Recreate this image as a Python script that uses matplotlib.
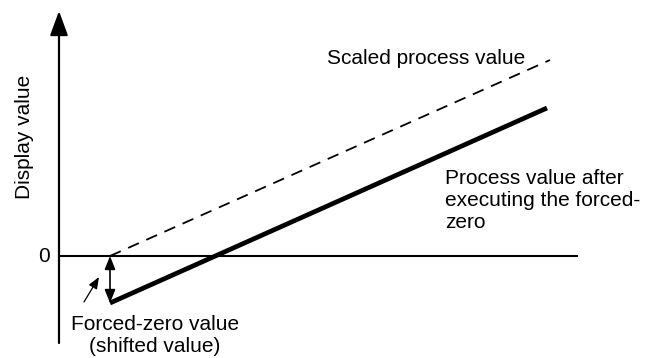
import matplotlib
matplotlib.use('Agg')
from matplotlib import pyplot as plt

plt.rcParams['font.family'] = ['Liberation Sans', 'DejaVu Sans']

# process input (horizontal) and display value (vertical), zero line at y=0
scaled_x = [110, 550]
scaled_y = [0, 196]
forced_x = [110, 547]
forced_y = [-47, 148]
zero_x = [59, 578]
shift_x = 110
shift_top = 0
shift_bottom = -47

fig = plt.figure(figsize=(6.45, 3.58), dpi=100)
ax = fig.add_axes([0, 0, 1, 1])
ax.set_xlim(0, 645)
ax.set_ylim(-102, 256)
ax.axis('off')

# vertical axis with arrow head
ax.annotate('', xy=(59, 245), xytext=(59, -87),
            arrowprops=dict(arrowstyle='-|>,head_length=1.5,head_width=0.55',
                            lw=1.6, color='black', shrinkA=0, shrinkB=0))
# zero line
ax.plot(zero_x, [0, 0], color='black', lw=1.5, solid_capstyle='butt')

# scaled process value (dashed) and process value after forced-zero (thick)
ax.plot(scaled_x, scaled_y, color='black', lw=1.3, dashes=(6.5, 4.5))
ax.plot(forced_x, forced_y, color='black', lw=3.4, solid_capstyle='butt')

# forced-zero shift (double arrow)
ax.annotate('', xy=(shift_x, shift_top), xytext=(shift_x, shift_bottom),
            arrowprops=dict(arrowstyle='<|-|>,head_length=0.8,head_width=0.32',
                            lw=1.2, color='black', shrinkA=0, shrinkB=0))
# pointer to the shift
ax.annotate('', xy=(99, -21), xytext=(84, -46),
            arrowprops=dict(arrowstyle='-|>,head_length=0.7,head_width=0.28',
                            lw=0.9, color='black', shrinkA=0, shrinkB=0))

fs = 15
ax.text(50, 0, '0', ha='right', va='center', fontsize=fs)
ax.text(25, 119, 'Display value', rotation=90, ha='center', va='center', fontsize=fs)
ax.text(327, 198, 'Scaled process value', ha='left', va='center', fontsize=fs)
ax.text(445, 56, 'Process value after\nexecuting the forced-\nzero',
        ha='left', va='center', fontsize=fs, linespacing=1.2)
ax.text(155, -80, 'Forced-zero value\n(shifted value)', ha='center', va='center',
        fontsize=fs, linespacing=1.2)

fig.savefig('out.png', dpi=100)
